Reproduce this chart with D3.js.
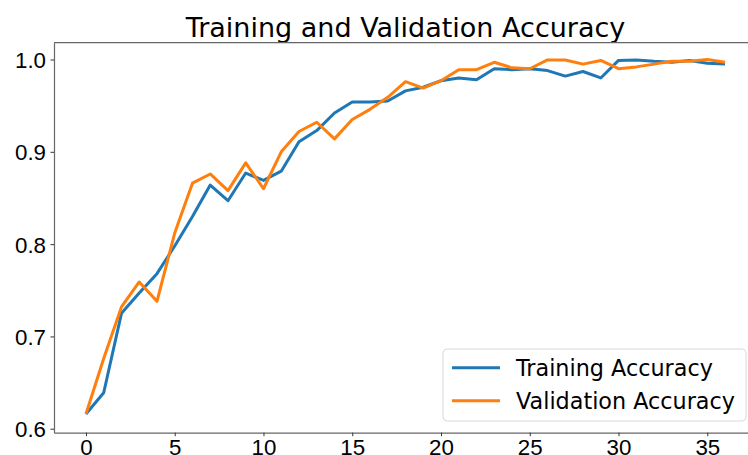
<!DOCTYPE html>
<html>
<head>
<meta charset="utf-8">
<script src="https://cdn.jsdelivr.net/npm/d3@7"></script>
<style>
  body { margin: 0; background: #fff; }
  svg { display: block; font-family: "DejaVu Sans", sans-serif; }
</style>
</head>
<body>
<div id="chart"></div>
<script>
// accuracy per epoch
const epochs = d3.range(0, 37);
const trainAcc = [
  0.616, 0.639, 0.725, 0.747, 0.768, 0.798, 0.830, 0.864, 0.847, 0.877,
  0.869, 0.879, 0.911, 0.923, 0.942, 0.954, 0.954, 0.955, 0.966, 0.970,
  0.977, 0.980, 0.978, 0.990, 0.989, 0.990, 0.988, 0.982, 0.987, 0.980,
  0.999, 0.9995, 0.998, 0.997, 0.999, 0.996, 0.995,
];
const valAcc = [
  0.616, 0.676, 0.732, 0.759, 0.738, 0.812, 0.866, 0.876, 0.858, 0.888,
  0.860, 0.900, 0.922, 0.932, 0.914, 0.935, 0.946, 0.959, 0.976, 0.969,
  0.977, 0.989, 0.989, 0.997, 0.991, 0.990, 0.9995, 0.9995, 0.995, 0.999,
  0.990, 0.992, 0.995, 0.998, 0.998, 1.000, 0.997,
];
const yTicks = [0.6, 0.7, 0.8, 0.9, 1.0];
const xTicks = [0, 5, 10, 15, 20, 25, 30, 35];
const seriesNames = ["Training Accuracy", "Validation Accuracy"];
const seriesColors = ["#1f77b4", "#ff7f0e"];

const W = 748, H = 455;
const plotLeft = 54, plotTop = 42.7, plotBottom = 432.7, plotRight = 757;
const tickFont = "22.3px";

const svg = d3
  .select("#chart")
  .append("svg")
  .attr("width", W)
  .attr("height", H);

const x = d3.scaleLinear().domain([-1.8, 37.8]).range([plotLeft, plotRight]);
const y = d3.scaleLinear().domain([0.5957, 1.0182]).range([plotBottom, plotTop]);

// title
svg
  .append("text")
  .attr("x", (plotLeft + plotRight) / 2)
  .attr("y", 37)
  .attr("text-anchor", "middle")
  .style("font-size", "27px")
  .style("fill", "#000")
  .text("Training and Validation Accuracy");

// lines
const line = d3
  .line()
  .x((d, i) => x(epochs[i]))
  .y((d) => y(d));

[trainAcc, valAcc].forEach((vals, k) => {
  svg
    .append("path")
    .datum(vals)
    .attr("fill", "none")
    .attr("stroke", seriesColors[k])
    .attr("stroke-width", 3)
    .attr("stroke-linejoin", "round")
    .attr("d", line);
});

// axes
const xAxis = svg
  .append("g")
  .attr("transform", "translate(0," + plotBottom + ")")
  .call(d3.axisBottom(x).tickValues(xTicks).tickSizeInner(3.5).tickSizeOuter(0).tickPadding(3));
const yAxis = svg
  .append("g")
  .attr("transform", "translate(" + plotLeft + ",0)")
  .call(
    d3.axisLeft(y).tickValues(yTicks).tickFormat(d3.format(".1f"))
      .tickSizeInner(3.5).tickSizeOuter(0).tickPadding(4.5)
  );
[xAxis, yAxis].forEach((g) => {
  g.selectAll("text").style("font-size", tickFont).style("fill", "#000").attr("font-family", null);
  g.selectAll("line").attr("stroke", "#333").attr("stroke-width", 1);
  g.select(".domain").attr("stroke", "#666").attr("stroke-width", 1.2);
});
yAxis.selectAll("text").attr("dy", "0.36em");
xAxis.selectAll("text").attr("dy", "0.73em");

// top spine (right one sits outside the picture)
svg
  .append("line")
  .attr("x1", plotLeft)
  .attr("x2", plotRight)
  .attr("y1", plotTop)
  .attr("y2", plotTop)
  .attr("stroke", "#666")
  .attr("stroke-width", 1.2);

// legend
const lg = svg.append("g");
lg.append("rect")
  .attr("x", 443)
  .attr("y", 349)
  .attr("width", 303)
  .attr("height", 72)
  .attr("rx", 4)
  .attr("fill", "#fff")
  .attr("fill-opacity", 0.8)
  .attr("stroke", "#d8d8d8")
  .attr("stroke-width", 1);

seriesNames.forEach((name, k) => {
  const ly = 367.7 + k * 33;
  lg.append("line")
    .attr("x1", 452)
    .attr("x2", 500)
    .attr("y1", ly)
    .attr("y2", ly)
    .attr("stroke", seriesColors[k])
    .attr("stroke-width", 3);
  lg.append("text")
    .attr("x", 516)
    .attr("y", ly + 8)
    .style("font-size", tickFont)
    .style("fill", "#000")
    .text(name);
});
</script>
</body>
</html>
